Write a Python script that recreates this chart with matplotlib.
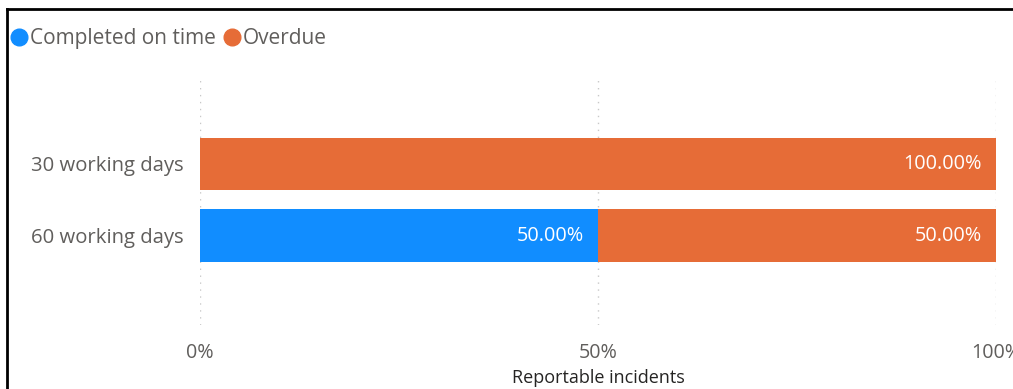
import matplotlib.pyplot as plt
from matplotlib.lines import Line2D

categories = ['60 working days', '30 working days']
on_time = [50.0, 0.0]
overdue = [50.0, 100.0]
series_names = ['Completed on time', 'Overdue']
xticks = [0, 50, 100]
xtick_labels = ['0%', '50%', '100%']

blue = '#118DFF'
orange = '#E66C37'
grey = '#605E5C'

plt.rcParams['font.family'] = ['Open Sans', 'DejaVu Sans']

fig = plt.figure(figsize=(10.13, 3.89), dpi=100)
ax = fig.add_axes([200 / 1013, 1 - 325 / 389, 796 / 1013, 247 / 389])

pos = list(range(len(categories)))
ax.barh(pos, on_time, height=0.73, color=blue, zorder=2)
ax.barh(pos, overdue, left=on_time, height=0.73, color=orange, zorder=2)

# data labels inside bar ends
for i in pos:
    if on_time[i] > 0:
        ax.text(on_time[i] - 1.8, i, f'{on_time[i]:.2f}%', color='white',
                ha='right', va='center', fontsize=14.3, zorder=3)
    if overdue[i] > 0:
        ax.text(on_time[i] + overdue[i] - 1.8, i, f'{overdue[i]:.2f}%', color='white',
                ha='right', va='center', fontsize=14.3, zorder=3)

ax.set_xlim(0, 100)
ax.set_ylim(-1.25, 2.2)
ax.set_yticks(pos)
ax.set_yticklabels(categories, fontsize=14.6, color=grey)
ax.set_xticks(xticks)
ax.set_xticklabels(xtick_labels, fontsize=14.2, color=grey)
ax.tick_params(length=0)
ax.tick_params(axis='y', pad=12)
ax.tick_params(axis='x', pad=13)
ax.grid(axis='x', linestyle=(0, (1, 4)), color='#c8c8c8', linewidth=1, zorder=0)
for s in ax.spines.values():
    s.set_visible(False)
ax.set_xlabel('Reportable incidents', fontsize=13, color='#252423', labelpad=4)

# legend
handles = [Line2D([], [], marker='o', linestyle='', markersize=12, color=c)
           for c in (blue, orange)]
fig.legend(handles, series_names, loc='upper left', bbox_to_anchor=(9 / 1013, 1 - 28 / 389),
           ncol=2, frameon=False, fontsize=15, labelcolor=grey, handletextpad=0.0,
           columnspacing=0.3, handlelength=1.0, borderaxespad=0, borderpad=0)

# frame lines (top and left)
fig.add_artist(Line2D([7 / 1013, 1], [1 - 9 / 389, 1 - 9 / 389], color='black',
                      linewidth=2, transform=fig.transFigure))
fig.add_artist(Line2D([7 / 1013, 7 / 1013], [0, 1 - 9 / 389], color='black',
                      linewidth=2, transform=fig.transFigure))

plt.savefig('out.png', dpi=100)
